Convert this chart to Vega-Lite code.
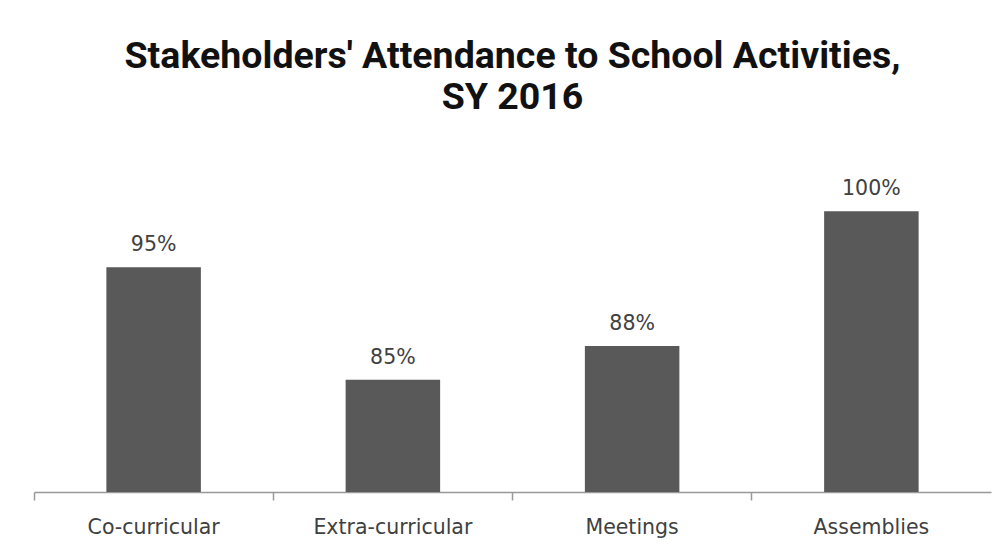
{
  "$schema": "https://vega.github.io/schema/vega-lite/v6.json",
  "width": 957,
  "height": 337,
  "autosize": {"type": "none"},
  "padding": {"left": 34, "top": 155, "right": 9, "bottom": 60},
  "background": "white",
  "config": {"view": {"stroke": null}},
  "title": {
    "text": ["Stakeholders' Attendance to School Activities,", "SY 2016"],
    "font": "'Liberation Sans Narrow', Roboto, sans-serif",
    "fontSize": 37.5,
    "fontWeight": "bold",
    "color": "#111111",
    "anchor": "middle",
    "baseline": "alphabetic",
    "lineHeight": 41,
    "offset": 9
  },
  "data": {
    "values": [
      {"activity": "Co-curricular", "attendance": 0.95},
      {"activity": "Extra-curricular", "attendance": 0.85},
      {"activity": "Meetings", "attendance": 0.88},
      {"activity": "Assemblies", "attendance": 1.0}
    ]
  },
  "encoding": {
    "x": {
      "field": "activity",
      "type": "nominal",
      "sort": null,
      "scale": {"paddingInner": 0, "paddingOuter": 0},
      "axis": {
        "title": null,
        "labelAngle": 0,
        "labelFont": "DejaVu Sans",
        "labelFontSize": 20.5,
        "labelColor": "#404040",
        "labelPadding": 17,
        "domainColor": "#999999",
        "domainWidth": 1.5,
        "tickColor": "#999999",
        "tickWidth": 1.5,
        "tickSize": 8,
        "bandPosition": 0
      }
    },
    "y": {
      "field": "attendance",
      "type": "quantitative",
      "scale": {"domain": [0.75, 1.05], "zero": false},
      "axis": null
    }
  },
  "layer": [
    {
      "mark": {"type": "bar", "color": "#595959", "width": {"band": 0.395}},
      "encoding": {"y2": {"datum": 0.75}}
    },
    {
      "mark": {
        "type": "text",
        "font": "DejaVu Sans",
        "fontSize": 20.5,
        "color": "#404040",
        "baseline": "alphabetic",
        "dy": -16
      },
      "encoding": {"text": {"field": "attendance", "type": "quantitative", "format": ".0%"}}
    }
  ]
}
